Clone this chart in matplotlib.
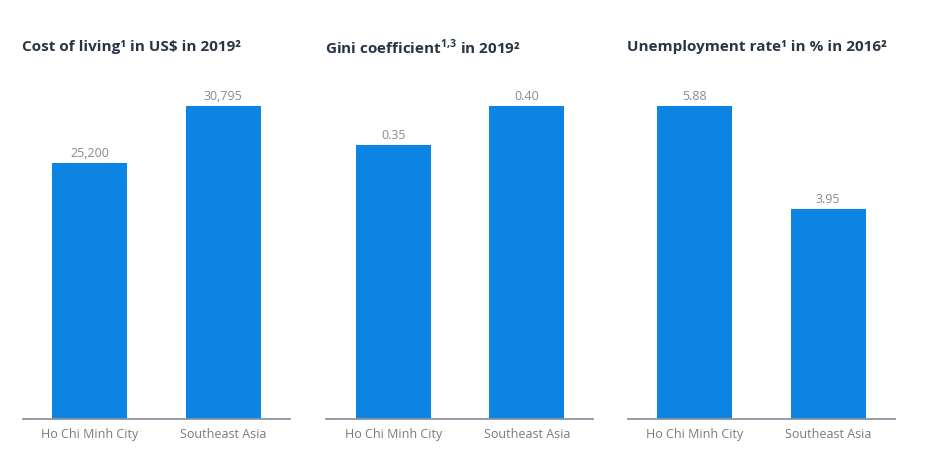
import matplotlib
matplotlib.use('Agg')
import matplotlib.pyplot as plt

plt.rcParams['font.family'] = ['Open Sans', 'DejaVu Sans']
plt.rcParams['mathtext.fontset'] = 'custom'
plt.rcParams['mathtext.rm'] = 'Open Sans'
plt.rcParams['mathtext.bf'] = 'Open Sans:bold'

categories = ['Ho Chi Minh City', 'Southeast Asia']
cost_of_living = [25200, 30795]
gini = [0.35, 0.40]
unemployment = [5.88, 3.95]

titles = ['Cost of living\u00b9 in US\\$ in 2019\u00b2',
          'Gini coefficient$^{\\mathbf{1{,}3}}$ in 2019\u00b2',
          'Unemployment rate\u00b9 in % in 2016\u00b2']
series = [cost_of_living, gini, unemployment]
fmts = ['{:,.0f}', '{:.2f}', '{:.2f}']

W, H = 928, 456
fig = plt.figure(figsize=(W / 100, H / 100), dpi=100)
fig.patch.set_facecolor('white')

lefts = [23, 326.5, 628]
bar_color = '#0b84e4'

for left, vals, title, fmt in zip(lefts, series, titles, fmts):
    ax = fig.add_axes([left / W, 36 / H, 267 / W, 330 / H])
    x = range(len(categories))
    ax.bar(x, vals, width=0.56, color=bar_color)
    ax.set_xlim(-0.5, 1.5)
    ax.set_ylim(0, max(vals) * 330 / 313)
    for i, v in enumerate(vals):
        ax.annotate(fmt.format(v), (i, v), xytext=(0, 3), textcoords='offset points',
                    ha='center', va='bottom', fontsize=9, color='#8a8a8a')
    ax.set_xticks(list(x))
    ax.set_xticklabels(categories, fontsize=9, color='#7a7a7a')
    ax.tick_params(axis='x', length=0, pad=6)
    ax.set_yticks([])
    for s in ['top', 'right', 'left']:
        ax.spines[s].set_visible(False)
    ax.spines['bottom'].set_color('#8a95a0')
    ax.spines['bottom'].set_linewidth(1.3)
    fig.text((left - 1) / W, 1 - 47 / H, title, fontsize=11, fontweight='bold',
             color='#283545', ha='left', va='center')

fig.savefig('out.png', dpi=100, facecolor='white')
